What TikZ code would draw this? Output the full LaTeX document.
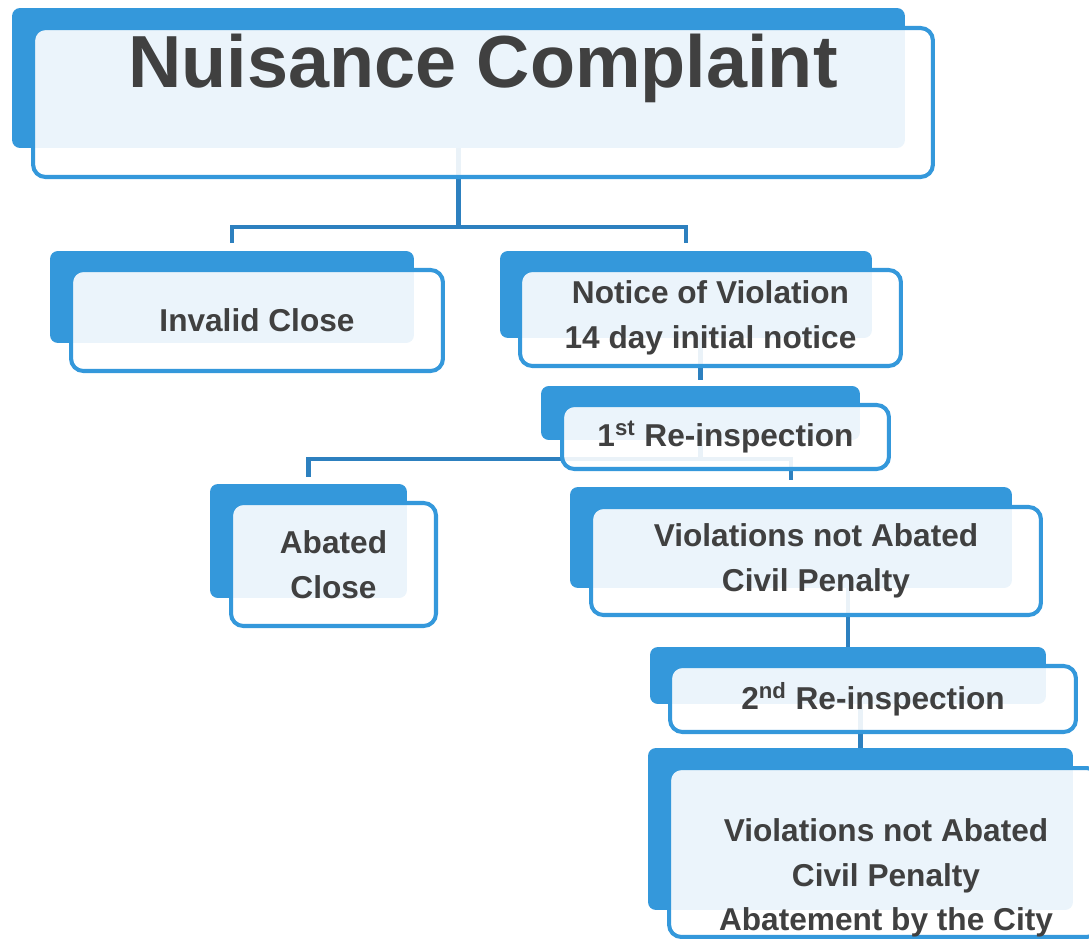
\documentclass[tikz,border=0pt]{standalone}
\usepackage{fontspec}
\setmainfont{Liberation Sans}
\usepackage{xcolor}
\usepackage{tikz}

\definecolor{boxblue}{HTML}{3498DB}
\definecolor{linkblue}{HTML}{2D80BF}
\definecolor{textgray}{HTML}{404040}
\newcommand\boxfont{\bfseries\fontsize{18}{25.5}\selectfont}

\begin{document}
\begin{tikzpicture}[x=0.02cm,y=-0.02cm,
        back box/.style={rectangle,rounded corners=4.5pt,fill=boxblue,inner sep=0pt},
        front box/.style={rectangle,rounded corners=7pt,draw=boxblue,line width=2.3pt,
          fill=white,fill opacity=0.9,text opacity=1,text=textgray,font=\boxfont,
          align=center,inner sep=0pt},
        link/.style={draw=linkblue,line width=2.3pt}
      ]
      \useasboundingbox (0,0) rectangle (1089,939);
      \clip (0,0) rectangle (1089,939);

      % back boxes
      \node[back box,minimum width=17.86cm,minimum height=2.8cm] (nuisanceback) at (458.5,78) {};
      \node[back box,minimum width=7.28cm,minimum height=1.84cm] (invalidback) at (232,297) {};
      \node[back box,minimum width=7.44cm,minimum height=1.74cm] (noticeback) at (686,294.5) {};
      \node[back box,minimum width=6.38cm,minimum height=1.08cm] (reinsp1back) at (700.5,413) {};
      \node[back box,minimum width=3.94cm,minimum height=2.28cm] (abatedback) at (308.5,541) {};
      \node[back box,minimum width=8.84cm,minimum height=2.02cm] (violationsback) at (791,537.5) {};
      \node[back box,minimum width=7.92cm,minimum height=1.14cm] (reinsp2back) at (848,675.5) {};
      \node[back box,minimum width=8.5cm,minimum height=3.24cm] (penaltyback) at (860.5,829) {};

      % connectors
      \coordinate (fork1) at (458.5,227);
      \coordinate (fork2) at (700.5,459);
      \draw[link] (nuisanceback.south) -- (fork1);
      \draw[link,shorten >=4.5pt] (fork1) -| (invalidback.north);
      \draw[link,shorten >=4.5pt] (fork1) -| (noticeback.north);
      \draw[link,shorten >=3.5pt] (noticeback.south -| reinsp1back.north) -- (reinsp1back.north);
      \draw[link] (reinsp1back.south) -- (fork2);
      \draw[link,shorten >=4pt] (fork2) -| (abatedback.north);
      \draw[link,shorten >=4pt] (fork2) -| (violationsback.north);
      \draw[link] (violationsback.south -| reinsp2back.north) -- (reinsp2back.north);
      \draw[link] (reinsp2back.south -| penaltyback.north) -- (penaltyback.north);

      % front boxes
      \node[front box,minimum width=18cm,minimum height=2.98cm,
        font=\bfseries\fontsize{42}{50}\selectfont,text height=1.18cm,text depth=1.8cm]
        (nuisance) at (483,102.5) {Nuisance Complaint};
      \node[front box,minimum width=7.44cm,minimum height=2.02cm] (invalid) at (257,320.5) {Invalid Close};
      \node[front box,minimum width=7.62cm,minimum height=1.92cm] (notice) at (710.5,318)
        {Notice of Violation\\14 day initial notice};
      \node[front box,minimum width=6.54cm,minimum height=1.28cm] (reinsp1) at (725.5,437)
        {1\textsuperscript{st} Re-inspection};
      \node[front box,minimum width=4.1cm,minimum height=2.46cm] (abated) at (333.5,564.5) {Abated\\Close};
      \node[front box,minimum width=9cm,minimum height=2.16cm] (violations) at (816,561)
        {Violations not Abated\\Civil Penalty};
      \node[front box,minimum width=8.12cm,minimum height=1.32cm] (reinsp2) at (873,699)
        {2\textsuperscript{nd} Re-inspection};
      \node[front box,minimum width=8.6cm,minimum height=3.38cm] (penalty) at (884,852.5) {};
      \node[text=textgray,font=\boxfont,align=center] (penaltytext) at (886,878)
        {Violations not Abated\\Civil Penalty\\Abatement by the City};
    \end{tikzpicture}
\end{document}
